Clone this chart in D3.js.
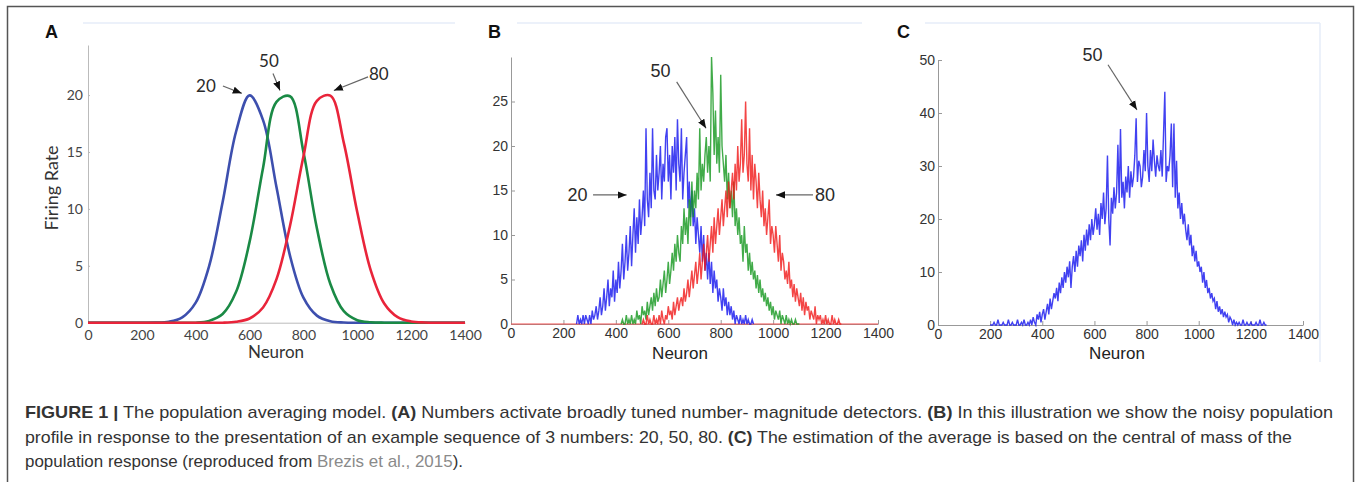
<!DOCTYPE html>
<html>
<head>
<meta charset="utf-8">
<script src="https://cdn.jsdelivr.net/npm/d3@7"></script>
<style>
  body { margin: 0; background: #fff; }
  svg { display: block; }
</style>
</head>
<body>
<div id="figure"></div>
<script>
const canvWidth = 1357, canvHeight = 482;

// ---- data ----
// Panel A: tuning curves sampled every 50 neurons (0..1400)
const tuningStep = 50;
const tuning20 = [0,0,0,0,0,0.01,0.09,0.47,1.76,4.99,10.6,16.8,19.97,17.8,11.9,5.9,2.2,0.62,0.13,0.02,0,0,0,0,0,0,0,0,0];
const tuning50 = [0,0,0,0,0,0,0,0,0,0.16,0.76,2.71,7.1,13.6,19.4,19.9,15.0,8.3,3.4,1.01,0.22,0.04,0,0,0,0,0,0,0];
const tuning80 = [0,0,0,0,0,0,0,0,0,0,0,0.08,0.37,1.34,3.83,8.5,14.6,19.5,19.95,15.8,9.7,4.6,1.69,0.49,0.11,0.02,0,0,0];

// Panel B: noisy responses, one value every 5 neurons
const noisyStep = 5;
const noisy20Start = 250;
const noisy20 = [
  0,1,0,0.5,0,1,0,1,0.5,0,
  1,0,1.5,0.5,1,2,0.5,1.5,3,1,
  2,4,1.5,3,5,2,4,3,6,2.5,
  5,3.5,7,4,6,9,5,7,10,6,
  8,11,6.5,10,13,8,12,9,14,10,
  12,15,11,22,14,12,17,13,22,15,
  14,19,15,17,20,14,18,16,21,22,
  16,19,14,20,17,21,15,23,18,16,
  22,14,17,19,21,13,16,12,15,11,
  13,9,12,10,8,11,7,10,6,8,
  5,8,4.5,7,3.5,6,4,5,2.5,4,
  3,1.5,4,2,3,1,2.5,1,2,0.5,
  1.5,0,1,0.5,0,1,0,0.5,0,1,
  0,0.5,0,0,0.5,0];
const noisy50Start = 420;
const noisy50 = [
  0,0.5,0,0,1,0,0.5,0,1,0,
  0.5,0,1.5,0.5,1,0,2,1,1.5,0.5,
  2.5,1,2,3,1.5,3.5,2,4,2.5,3,
  5,3,4.5,6,3.5,5,7,4.5,6,8,
  6,9,7,10,8,7,11,9,13,10,
  12,9,14,11,16,12,15,13,17,14,
  22,15,18,16,19,21,17,20,16,30,
  26,19,24,18,21,17,28,20,18,16,
  19,14,17,13,15,12,16,11,13,10,
  12,9,10,7,11,8,9,6,8,5.5,
  7,5,6,4,5.5,3.5,5,3,4,2.5,
  3.5,2,3,1.5,2.5,1,2,0.5,1.5,1,
  0.5,1.5,0,1,0.5,0,1,0,0.5,0,
  0.5,0,0,0.5,0,0,0];
const noisy80Start = 500;
const noisy80 = [
  0,0.5,0,0,1,0,0.5,0,0,1,
  0,0.5,0,1,0,1.5,0.5,0,1,0.5,
  2,1,1.5,0.5,2.5,1,2,3,1.5,2.5,
  3,2,4,2.5,3.5,5,3,4.5,6,4,
  5.5,7,4.5,6,8,5,7,9,6,8,
  10,7,9,11,8,12,9,11,13,10,
  12,14,11,13,15,12,16,13,15,17,
  14,18,15,20,16,18,23,17,19,25,
  18,16,22,15,19,14,18,16,13,17,
  14,12,15,11,13,10,12,14,9,11,
  10,8,11,9,7,10,6,8,7,5,
  6,4.5,7,4,5,3,4.5,2.5,4,3,
  2,3.5,1.5,3,1,2.5,1.5,2,0.5,1.5,
  1,0.5,2,0,1,0.5,1,0,0.5,0,
  1,0,0.5,0,0,1,0,0.5,0,0,
  0.5,0,0];

// Panel C: summed population response, every 5 neurons
const summedStart = 200;
const summed = [
  0,0,0,0.5,0,0,1,0,0,0,
  0.5,0,0,0,1,0,0,0.5,0,0,
  0,1,0,0,0.5,0,1,0,0,0.5,
  0,1,0,1.5,0.5,0,2,1,2.5,0.5,
  2,3,1,2.5,4,2,5,3,4.5,6,
  5,7,4.5,8,6,9,7,10,8,11,
  9,12,7,11,13,10,14,11,15,13,
  16,12,17,14,18,15,19,16,20,17,
  19,22,18,21,17,23,20,25,19,22,
  32,20,15,24,21,26,22,25,34,23,
  37,24,27,22,28,25,30,24,29,26,
  28,32,39,27,31,30,26,28,33,29,
  40,30,27,33,29,35,31,28,32,30,
  29,33,28,36,44,27,30,29,32,38,
  26,38,24,31,22,25,20,23,19,21,
  18,16,19,15,17,13,15,12,14,11,
  12,10,11,8,10,7,8.5,6,7,5,
  6,4.5,5,3,4.5,2.5,3.5,2,3,1.5,
  2.5,1.5,2,0.5,1.5,1,0,1,0,0.5,
  0,0.5,0,0,1,0,0,0.5,0,0,
  0.5,0,0,0,0.5,0,0,1,0,0,
  0.5,0,0];

// ticks
const neuronTicks = [0,200,400,600,800,1000,1200,1400];
const rateTicksA = [0,5,10,15,20];
const rateTicksB = [0,5,10,15,20,25];
const rateTicksC = [0,10,20,30,40,50];

// annotations [label, textX, textY, fromX, fromY, toX, toY] in data units
const notesA = [["20",438,20.8,501,20.8,571,20.15],["50",672,23.0,687,21.9,713,20.4],["80",1080,21.9,1040,21.6,913,20.4]];
const notesB = [["50",570,28.5,632,27.2,744,22.0],["20",254,14.5,313,14.5,441,14.5],["80",1198,14.5,1152,14.5,1011,14.5]];
const notesC = [["50",593,51.1,652,49.1,763,40.6]];

const svg = d3.select('#figure')
    .append('svg')
    .attr('width', canvWidth)
    .attr('height', canvHeight);

svg.append('defs').append('marker')
    .attr('id', 'arrowhead')
    .attr('viewBox', '0 0 10 10')
    .attr('refX', 10)
    .attr('refY', 5)
    .attr('markerUnits', 'userSpaceOnUse')
    .attr('markerWidth', 9)
    .attr('markerHeight', 9)
    .attr('orient', 'auto')
    .append('path')
    .attr('d', 'M0,1 L10,5 L0,9 z')
    .attr('fill', '#111');

// figure frame
svg.append('rect')
    .attr('x', 7.5).attr('y', 6.5)
    .attr('width', 1346).attr('height', 500)
    .attr('fill', 'none')
    .attr('stroke', '#555')
    .attr('stroke-width', 1.5);

// faint matlab figure edges
const faint = [[83, 455, 23], [517, 862, 23], [925, 1320, 23]];
faint.forEach(f => svg.append('line')
    .attr('x1', f[0]).attr('x2', f[1]).attr('y1', f[2]).attr('y2', f[2])
    .attr('stroke', '#e6edf8').attr('stroke-width', 1.5));
svg.append('line')
    .attr('x1', 1320).attr('x2', 1320).attr('y1', 23).attr('y2', 362)
    .attr('stroke', '#e6edf8').attr('stroke-width', 1.5);

const fmt = d3.format('d');

function panelLetter(x, t) {
    svg.append('text')
        .attr('x', x).attr('y', 38)
        .attr('font-family', 'Liberation Sans, Arial, sans-serif')
        .attr('font-weight', 'bold')
        .attr('font-size', 18)
        .attr('fill', '#111')
        .text(t);
}

function annotate(notes, x, y, font, size) {
    notes.forEach(n => {
        svg.append('line')
            .attr('x1', x(n[3])).attr('y1', y(n[4]))
            .attr('x2', x(n[5])).attr('y2', y(n[6]))
            .attr('stroke', '#666')
            .attr('stroke-width', 1.2)
            .attr('marker-end', 'url(#arrowhead)');
        svg.append('text')
            .attr('x', x(n[1])).attr('y', y(n[2]))
            .attr('dy', '0.36em')
            .attr('text-anchor', 'middle')
            .attr('font-family', font)
            .attr('font-size', size)
            .attr('fill', '#2a2a2a')
            .text(n[0]);
    });
}

// ================= Panel A =================
const xA = d3.scaleLinear().domain([0, 1400]).range([88, 465]);
const yA = d3.scaleLinear().domain([0, 24.4]).range([322.7, 45]);
const fontA = 'Lato, Open Sans, sans-serif';

panelLetter(45, 'A');

svg.append('g')
    .attr('transform', `translate(0,${yA(0)})`)
    .call(d3.axisBottom(xA).tickValues(neuronTicks).tickFormat(fmt).tickSizeInner(0).tickSizeOuter(0).tickPadding(7))
    .call(g => g.select('.domain').attr('stroke', '#bbb'))
    .call(g => g.selectAll('text').attr('font-family', fontA).attr('font-size', 14).attr('fill', '#444'));

svg.append('g')
    .attr('transform', `translate(${xA(0)},0)`)
    .call(d3.axisLeft(yA).tickValues(rateTicksA).tickFormat(fmt).tickSizeInner(-2).tickSizeOuter(0).tickPadding(5))
    .call(g => g.select('.domain').attr('stroke', '#bbb'))
    .call(g => g.selectAll('line').attr('stroke', '#bbb'))
    .call(g => g.selectAll('text').attr('font-family', fontA).attr('font-size', 14).attr('fill', '#444'));

svg.append('text')
    .attr('x', 276).attr('y', 358)
    .attr('text-anchor', 'middle')
    .attr('font-family', fontA)
    .attr('font-size', 17)
    .attr('fill', '#333')
    .text('Neuron');

svg.append('text')
    .attr('transform', 'translate(58,188) rotate(-90)')
    .attr('text-anchor', 'middle')
    .attr('font-family', fontA)
    .attr('font-size', 18)
    .attr('fill', '#333')
    .text('Firing Rate');

const lineA = d3.line()
    .x((d, i) => xA(i * tuningStep))
    .y(d => yA(Math.max(0, d)))
    .curve(d3.curveCatmullRom.alpha(0.5));

[[tuning20, '#3d4fae'], [tuning50, '#1a8a45'], [tuning80, '#e9243a']].forEach(s => {
    svg.append('path')
        .datum(s[0])
        .attr('d', lineA)
        .attr('fill', 'none')
        .attr('stroke', s[1])
        .attr('stroke-width', 2.6);
});

annotate(notesA, xA, yA, fontA, 17);

// ================= Panel B =================
const xB = d3.scaleLinear().domain([0, 1400]).range([511, 878]);
const yB = d3.scaleLinear().domain([0, 30]).range([324, 57]);
const fontB = 'Liberation Sans, Arial, sans-serif';

panelLetter(488, 'B');

function matlabAxes(x, y, yTicks) {
    svg.append('g')
        .attr('transform', `translate(0,${y(0)})`)
        .call(d3.axisBottom(x).tickValues(neuronTicks).tickFormat(fmt).tickSizeInner(-4).tickSizeOuter(0).tickPadding(4))
        .call(g => g.select('.domain').attr('stroke', '#999'))
        .call(g => g.selectAll('line').attr('stroke', '#999'))
        .call(g => g.selectAll('text').attr('font-family', fontB).attr('font-size', 14).attr('fill', '#333'));
    svg.append('g')
        .attr('transform', `translate(${x(0)},0)`)
        .call(d3.axisLeft(y).tickValues(yTicks).tickFormat(fmt).tickSizeInner(-4).tickSizeOuter(0).tickPadding(3))
        .call(g => g.select('.domain').attr('stroke', '#999'))
        .call(g => g.selectAll('line').attr('stroke', '#999'))
        .call(g => g.selectAll('text').attr('font-family', fontB).attr('font-size', 14).attr('fill', '#333'));
}

matlabAxes(xB, yB, rateTicksB);

function noisyLine(x, y, start) {
    return d3.line()
        .x((d, i) => x(start + i * noisyStep))
        .y(d => y(d));
}

// red baseline across the axis
svg.append('line')
    .attr('x1', xB(0)).attr('x2', xB(1400))
    .attr('y1', yB(0)).attr('y2', yB(0))
    .attr('stroke', '#f05050').attr('stroke-width', 1);

[[noisy20, noisy20Start, '#1212ee'], [noisy50, noisy50Start, '#11961b'], [noisy80, noisy80Start, '#f01616']].forEach(s => {
    svg.append('path')
        .datum(s[0])
        .attr('d', noisyLine(xB, yB, s[1]))
        .attr('fill', 'none')
        .attr('stroke', s[2])
        .attr('stroke-width', 1.4)
        .attr('stroke-opacity', 0.8);
});

svg.append('text')
    .attr('x', 680).attr('y', 359)
    .attr('text-anchor', 'middle')
    .attr('font-family', fontB)
    .attr('font-size', 17)
    .attr('fill', '#222')
    .text('Neuron');

annotate(notesB, xB, yB, fontB, 18);

// ================= Panel C =================
const xC = d3.scaleLinear().domain([0, 1400]).range([938, 1303]);
const yC = d3.scaleLinear().domain([0, 50]).range([325, 60]);

panelLetter(897, 'C');
matlabAxes(xC, yC, rateTicksC);

svg.append('path')
    .datum(summed)
    .attr('d', noisyLine(xC, yC, summedStart))
    .attr('fill', 'none')
    .attr('stroke', '#1212ee')
    .attr('stroke-width', 1.4)
    .attr('stroke-opacity', 0.8);

svg.append('text')
    .attr('x', 1117).attr('y', 359)
    .attr('text-anchor', 'middle')
    .attr('font-family', fontB)
    .attr('font-size', 17)
    .attr('fill', '#222')
    .text('Neuron');

annotate(notesC, xC, yC, fontB, 18);

// ================= Caption =================
const captionLines = [
    {y: 418, width: 1308, parts: [
        ['FIGURE 1 |', 'b'], [' The population averaging model. ', ''], ['(A)', 'b'],
        [' Numbers activate broadly tuned number- magnitude detectors. ', ''], ['(B)', 'b'],
        [' In this illustration we show the noisy population', '']]},
    {y: 443, width: 1267, parts: [
        ['profile in response to the presentation of an example sequence of 3 numbers: 20, 50, 80. ', ''],
        ['(C)', 'b'], [' The estimation of the average is based on the central of mass of the', '']]},
    {y: 467, width: 438, parts: [
        ['population response (reproduced from ', ''], ['Brezis et al., 2015', 'g'], [').', '']]}
];

captionLines.forEach(l => {
    const t = svg.append('text')
        .attr('x', 25).attr('y', l.y)
        .attr('font-family', fontB)
        .attr('font-size', 17)
        .attr('fill', '#333')
        .attr('textLength', l.width)
        .attr('lengthAdjust', 'spacingAndGlyphs')
        .style('white-space', 'pre');
    l.parts.forEach(p => {
        t.append('tspan')
            .attr('font-weight', p[1] === 'b' ? 'bold' : null)
            .attr('fill', p[1] === 'g' ? '#8a8a8a' : null)
            .text(p[0]);
    });
});
</script>
</body>
</html>
